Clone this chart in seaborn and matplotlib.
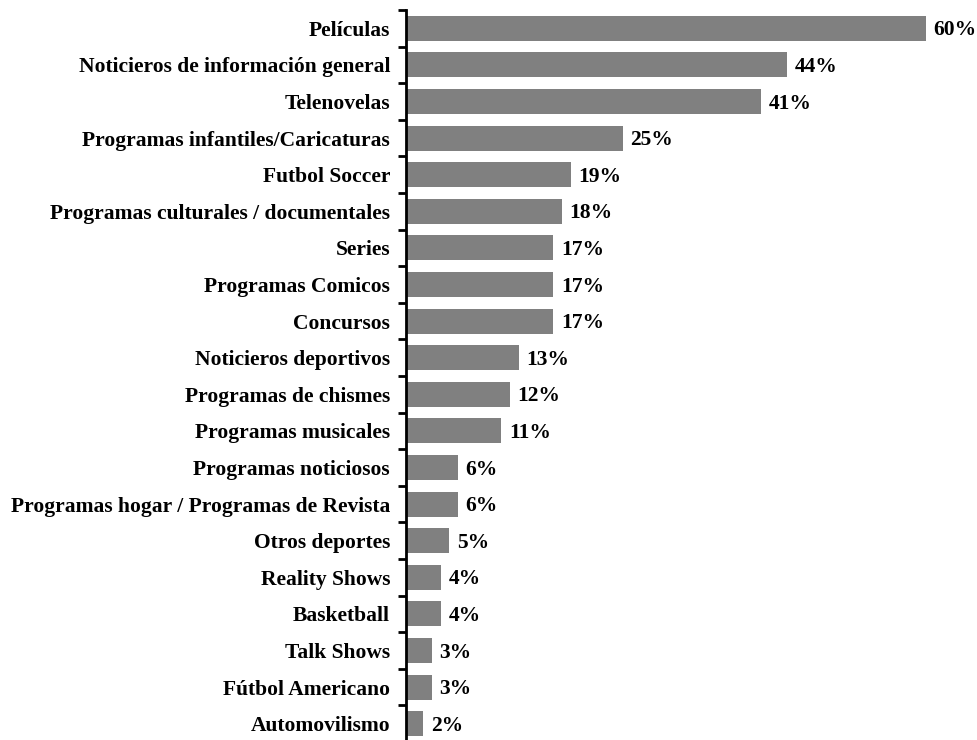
import matplotlib
matplotlib.use("Agg")
import matplotlib.pyplot as plt
import seaborn as sns
import pandas as pd
import numpy as np

categories = [
    "Películas",
    "Noticieros de información general",
    "Telenovelas",
    "Programas infantiles/Caricaturas",
    "Futbol Soccer",
    "Programas culturales / documentales",
    "Series",
    "Programas Comicos",
    "Concursos",
    "Noticieros deportivos",
    "Programas de chismes",
    "Programas musicales",
    "Programas noticiosos",
    "Programas hogar / Programas de Revista",
    "Otros deportes",
    "Reality Shows",
    "Basketball",
    "Talk Shows",
    "Fútbol Americano",
    "Automovilismo",
]
values = [60, 44, 41, 25, 19, 18, 17, 17, 17, 13, 12, 11, 6, 6, 5, 4, 4, 3, 3, 2]

df = pd.DataFrame({"categoria": categories, "porcentaje": values})

sns.set_theme(style="white")
plt.rcParams["font.family"] = ["Liberation Serif", "DejaVu Serif"]

fig = plt.figure(figsize=(9.77, 7.40), dpi=100)
ax = fig.add_axes([406 / 977, -2 / 740, 571 / 977, 732 / 740])

sns.barplot(data=df, x="porcentaje", y="categoria", orient="h",
            color="#808080", saturation=1, width=0.68, linewidth=0, ax=ax)

ax.set_xlim(0, 65.9)
ax.set_ylim(len(categories) - 0.5, -0.5)
ax.set_xlabel("")
ax.set_ylabel("")
ax.set_xticks([])

for s in ["top", "right", "bottom"]:
    ax.spines[s].set_visible(False)
ax.spines["left"].set_linewidth(2)
ax.spines["left"].set_color("black")

# labels at bar centres, tick marks between categories
ax.set_yticks(np.arange(len(categories)))
ax.set_yticklabels(categories, fontsize=15.5, fontweight="bold", color="black")
ax.tick_params(axis="y", which="major", length=0, pad=11.5)
ax.set_yticks(np.arange(len(categories) + 1) - 0.5, minor=True)
ax.tick_params(axis="y", which="minor", length=6, width=2, color="black", left=True)

for i, v in enumerate(values):
    ax.annotate(f"{v}%", xy=(v, i), xytext=(5.5, -1.5), textcoords="offset points",
                ha="left", va="center", fontsize=15.5, fontweight="bold",
                color="black", annotation_clip=False)

fig.savefig("out.png", dpi=100)
